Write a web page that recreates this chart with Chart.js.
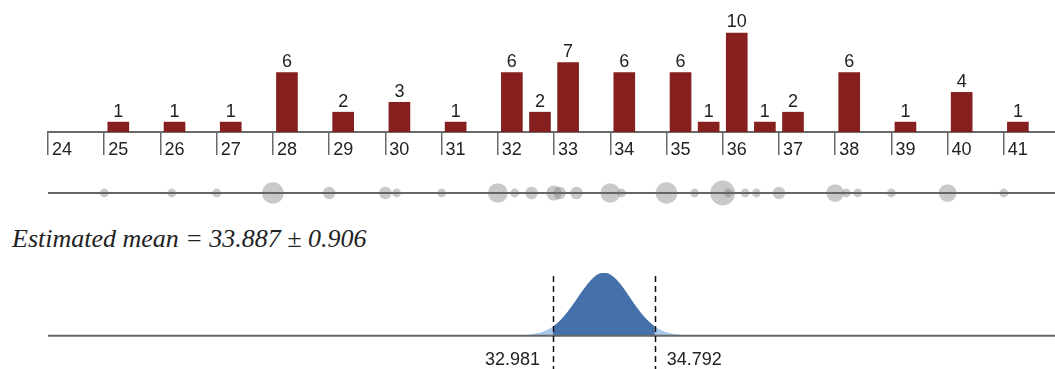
<!DOCTYPE html>
<html>
<head>
<meta charset="utf-8">
<script src="https://cdn.jsdelivr.net/npm/chart.js@4.4.1/dist/chart.umd.min.js"></script>
<style>
  html, body { margin: 0; padding: 0; background: #fff; }
  #wrap { position: relative; width: 1055px; height: 369px; overflow: hidden; }
  #wrap canvas { position: absolute; left: 0; }
  #mean {
    position: absolute; left: 12px; top: 226px;
    font: italic 26px/26px "Liberation Serif", "Times New Roman", serif;
    color: #222; white-space: nowrap;
  }
</style>
</head>
<body>
<div id="wrap">
  <canvas id="hist" style="top:0px" width="1055" height="160"></canvas>
  <canvas id="dots" style="top:170px" width="1055" height="46"></canvas>
  <div id="mean"></div>
  <canvas id="dens" style="top:260px" width="1055" height="109"></canvas>
</div>
<script>
// shared x range (same pixel mapping on all three panels)
const X_MIN = 24;
const X_MAX = 41.91;

// histogram: bins of width 0.5
const BIN_WIDTH = 0.5;
const binStarts = [25, 26, 27, 28, 29, 30, 31, 32, 32.5, 33, 34, 35, 35.5, 36, 36.5, 37, 38, 39, 40, 41];
const binCounts = [1, 1, 1, 6, 2, 3, 1, 6, 2, 7, 6, 6, 1, 10, 1, 2, 6, 1, 4, 1];

// individual observations (distinct value, how many times)
const pointValues = [25, 26.2, 27, 28, 29, 30, 30.2, 31, 32, 32.3, 32.6, 33, 33.1, 33.4, 34, 34.2,
  35, 35.5, 36, 36.1, 36.4, 36.6, 37, 38, 38.2, 38.4, 39, 40, 41];
const pointCounts = [1, 1, 1, 6, 2, 2, 1, 1, 5, 1, 2, 3, 2, 2, 5, 1,
  6, 1, 8, 1, 1, 1, 2, 4, 1, 1, 1, 4, 1];

// estimate of the mean and its interval
const meanEstimate = 33.887;
const meanHalfWidth = 0.906;
const intervalLow = 32.981;
const intervalHigh = 34.792;

// sampling distribution of the mean, relative height
const curveX = [32.4, 32.5, 32.6, 32.7, 32.8, 32.9, 33.0, 33.1, 33.2, 33.3, 33.4, 33.5, 33.6, 33.7, 33.8,
  33.9, 34.0, 34.1, 34.2, 34.3, 34.4, 34.5, 34.6, 34.7, 34.8, 34.9, 35.0, 35.1, 35.2, 35.3, 35.4];
const curveY = [0.006, 0.011, 0.021, 0.037, 0.063, 0.102, 0.158, 0.234, 0.331, 0.446, 0.574, 0.704, 0.825, 0.921, 0.982,
  1.0, 0.971, 0.899, 0.795, 0.670, 0.540, 0.415, 0.304, 0.213, 0.142, 0.090, 0.055, 0.032, 0.018, 0.009, 0.005];
const intervalEdgeHeight = 0.146;

const FONT = '"Liberation Sans", Arial, Helvetica, sans-serif';
const TEXT = '#222';
const AXIS = '#6a6a6a';

// ---------- histogram ----------
const barLabels = {
  id: 'barLabels',
  afterDatasetsDraw(chart) {
    const ctx = chart.ctx;
    ctx.save();
    ctx.font = '18px ' + FONT;
    ctx.fillStyle = TEXT;
    ctx.textAlign = 'center';
    ctx.textBaseline = 'alphabetic';
    chart.getDatasetMeta(0).data.forEach((bar, i) => {
      ctx.fillText(String(binCounts[i]), bar.x, bar.y - 5.5);
    });
    ctx.restore();
  }
};

new Chart(document.getElementById('hist'), {
  type: 'bar',
  data: {
    datasets: [{
      data: binStarts.map((s, i) => ({ x: s + BIN_WIDTH / 2, y: binCounts[i] })),
      backgroundColor: '#86201f',
      barThickness: 21,
    }]
  },
  options: {
    responsive: false,
    animation: false,
    layout: { autoPadding: false, padding: { left: 48, right: 0, top: 0, bottom: 0 } },
    plugins: { legend: { display: false }, tooltip: { enabled: false } },
    scales: {
      x: {
        type: 'linear',
        min: X_MIN,
        max: X_MAX,
        offset: false,
        grid: { offset: false, drawOnChartArea: false, tickLength: 23, color: AXIS, lineWidth: 1.5 },
        border: { color: AXIS, width: 2 },
        ticks: {
          stepSize: 1,
          includeBounds: false,
          align: 'start',
          labelOffset: 4,
          padding: -16,
          maxRotation: 0,
          autoSkip: false,
          color: TEXT,
          font: { family: FONT, size: 18 },
        },
        afterFit(scale) { scale.height = 28; }
      },
      y: { display: false, min: 0, max: 13.33 }
    }
  },
  plugins: [barLabels]
});

// ---------- dot strip ----------
const stripLine = {
  id: 'stripLine',
  afterDatasetsDraw(chart) {
    const ctx = chart.ctx;
    const y = chart.scales.y.getPixelForValue(0);
    ctx.save();
    ctx.strokeStyle = '#666';
    ctx.lineWidth = 2;
    ctx.beginPath();
    ctx.moveTo(chart.chartArea.left, y);
    ctx.lineTo(chart.chartArea.right, y);
    ctx.stroke();
    ctx.restore();
  }
};

new Chart(document.getElementById('dots'), {
  type: 'bubble',
  data: {
    datasets: [{
      data: pointValues.map((v, i) => ({ x: v, y: 0, r: 4.4 * Math.sqrt(pointCounts[i]) })),
      backgroundColor: 'rgba(120,120,120,0.4)',
      borderWidth: 0,
      clip: false,
    }]
  },
  options: {
    responsive: false,
    animation: false,
    layout: { autoPadding: false, padding: { left: 48, right: 0, top: 0, bottom: 0 } },
    plugins: { legend: { display: false }, tooltip: { enabled: false } },
    scales: {
      x: { type: 'linear', display: false, min: X_MIN, max: X_MAX },
      y: { display: false, min: -1, max: 1 }
    }
  },
  plugins: [stripLine]
});

// ---------- estimated mean ----------
document.getElementById('mean').textContent =
  'Estimated mean = ' + meanEstimate.toFixed(3) + ' \u00b1 ' + meanHalfWidth.toFixed(3);

const insideX = [intervalLow].concat(curveX.filter(x => x > intervalLow && x < intervalHigh), [intervalHigh]);
const insideY = [intervalEdgeHeight]
  .concat(curveY.filter((y, i) => curveX[i] > intervalLow && curveX[i] < intervalHigh), [intervalEdgeHeight]);

const intervalMarks = {
  id: 'intervalMarks',
  afterDatasetsDraw(chart) {
    const ctx = chart.ctx;
    const xs = chart.scales.x;
    const y0 = chart.scales.y.getPixelForValue(0);
    ctx.save();
    // baseline
    ctx.strokeStyle = '#666';
    ctx.lineWidth = 2;
    ctx.beginPath();
    ctx.moveTo(chart.chartArea.left, y0);
    ctx.lineTo(chart.chartArea.right, y0);
    ctx.stroke();
    // dashed interval bounds
    ctx.strokeStyle = '#111';
    ctx.lineWidth = 1.5;
    ctx.setLineDash([6, 4]);
    [intervalLow, intervalHigh].forEach(v => {
      const px = Math.round(xs.getPixelForValue(v)) + 0.5;
      ctx.beginPath();
      ctx.moveTo(px, 16);
      ctx.lineTo(px, chart.height);
      ctx.stroke();
    });
    ctx.setLineDash([]);
    // labels
    ctx.font = '18px ' + FONT;
    ctx.fillStyle = TEXT;
    ctx.textBaseline = 'alphabetic';
    ctx.textAlign = 'right';
    ctx.fillText(intervalLow.toFixed(3), xs.getPixelForValue(intervalLow) - 13, 105);
    ctx.textAlign = 'left';
    ctx.fillText(intervalHigh.toFixed(3), xs.getPixelForValue(intervalHigh) + 12, 105);
    ctx.restore();
  }
};

new Chart(document.getElementById('dens'), {
  type: 'line',
  data: {
    datasets: [
      // dataset 0 is painted last, so the interval part goes first
      {
        data: insideX.map((x, i) => ({ x: x, y: insideY[i] })),
        borderWidth: 0,
        pointRadius: 0,
        fill: 'origin',
        backgroundColor: '#4471a9',
        cubicInterpolationMode: 'monotone',
      },
      {
        data: curveX.map((x, i) => ({ x: x, y: curveY[i] })),
        borderWidth: 0,
        pointRadius: 0,
        fill: 'origin',
        backgroundColor: '#a9c7e8',
        cubicInterpolationMode: 'monotone',
      }
    ]
  },
  options: {
    responsive: false,
    animation: false,
    layout: { autoPadding: false, padding: { left: 48, right: 0, top: 12.7, bottom: 33.3 } },
    plugins: { legend: { display: false }, tooltip: { enabled: false } },
    scales: {
      x: { type: 'linear', display: false, min: X_MIN, max: X_MAX },
      y: { display: false, min: 0, max: 1 }
    }
  },
  plugins: [intervalMarks]
});
</script>
</body>
</html>
